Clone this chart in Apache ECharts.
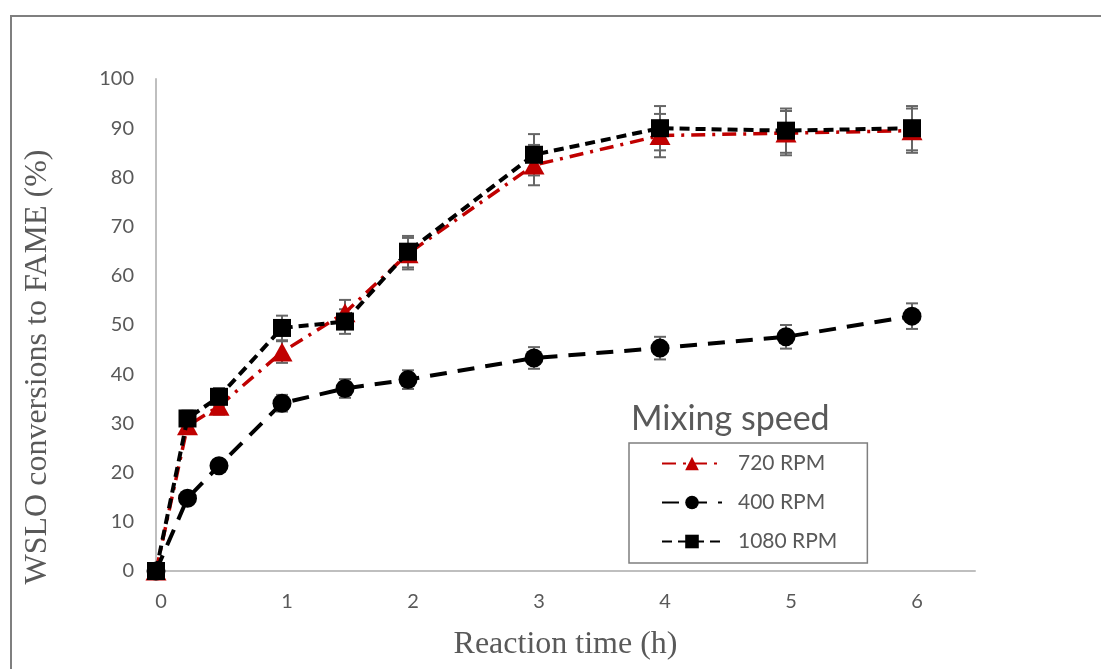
<!DOCTYPE html>
<html>
<head>
<meta charset="utf-8">
<script src="https://cdn.jsdelivr.net/npm/echarts@6/dist/echarts.min.js"></script>
<style>
  html, body { margin: 0; padding: 0; background: #ffffff; }
  #chart { width: 1101px; height: 669px; }
</style>
</head>
<body>
<div id="chart"></div>
<script>
// Reaction time (h)
const times = [0, 0.25, 0.5, 1, 1.5, 2, 3, 4, 5, 6];

// Conversion to FAME (%) per mixing speed
const rpm720 = [0, 29.5, 33.5, 44.5, 52.5, 64.5, 82.5, 88.5, 89, 89.5];
const rpm400 = [0, 14.8, 21.4, 34.1, 37.1, 38.9, 43.3, 45.3, 47.6, 51.8];
const rpm1080 = [0, 31, 35.4, 49.4, 50.7, 64.9, 84.6, 90, 89.5, 90];

// Error bar half-heights (%)
const err720 = [0, 1.5, 1.7, 2.2, 2.6, 3.2, 4.1, 4.4, 4.5, 4.5];
const err400 = [0, 0.7, 1.1, 1.7, 1.9, 1.9, 2.2, 2.3, 2.4, 2.6];
const err1080 = [0, 1.6, 1.8, 2.5, 2.5, 3.2, 4.2, 4.5, 4.5, 4.5];

const seriesNames = ['720 RPM', '400 RPM', '1080 RPM'];
const yTicks = [0, 100, 10];
const xTicks = [0, 6.5, 1];

const GRAY_TEXT = '#595959';
const AXIS_GRAY = '#bfbfbf';
const RED = '#c00000';

function pairs(ys) {
  return times.map((t, i) => [t, ys[i]]);
}

function errorTriples(ys, errs) {
  return times.map((t, i) => [t, ys[i], errs[i]]);
}

// Vertical error bar with caps, drawn in data space
function renderErrorBar(params, api) {
  const x = api.value(0);
  const y = api.value(1);
  const e = api.value(2);
  const hi = api.coord([x, y + e]);
  const lo = api.coord([x, y - e]);
  const half = 6;
  const style = { stroke: '#666666', lineWidth: 2 };
  return {
    type: 'group',
    children: [
      { type: 'line', shape: { x1: hi[0], y1: hi[1], x2: lo[0], y2: lo[1] }, style },
      { type: 'line', shape: { x1: hi[0] - half, y1: hi[1], x2: hi[0] + half, y2: hi[1] }, style },
      { type: 'line', shape: { x1: lo[0] - half, y1: lo[1], x2: lo[0] + half, y2: lo[1] }, style }
    ]
  };
}

function errSeries(name, ys, errs) {
  return {
    name: name + ' error',
    type: 'custom',
    z: 1,
    silent: true,
    renderItem: renderErrorBar,
    encode: { x: 0, y: 1 },
    data: errorTriples(ys, errs)
  };
}

const chart = echarts.init(document.getElementById('chart'), null, { renderer: 'canvas' });

chart.setOption({
  animation: false,
  backgroundColor: '#ffffff',
  graphic: [
    {
      // outer chart frame (only its top and left edges fall inside the canvas)
      type: 'rect',
      shape: { x: 11, y: 16, width: 1300, height: 900 },
      style: { fill: 'none', stroke: '#7f7f7f', lineWidth: 2 },
      silent: true,
      z: 0
    },
    {
      // vertical axis title
      type: 'text',
      x: 38,
      y: 367,
      rotation: Math.PI / 2,
      silent: true,
      style: {
        text: 'WSLO conversions to FAME (%)',
        fontFamily: 'Liberation Serif',
        fontSize: 32,
        fill: GRAY_TEXT,
        align: 'center',
        verticalAlign: 'middle'
      }
    }
  ],
  title: {
    text: 'Mixing speed',
    left: 626,
    top: 397,
    textStyle: { fontFamily: 'Lato', fontSize: 34, fontWeight: 'normal', color: GRAY_TEXT }
  },
  legend: {
    orient: 'vertical',
    left: 629,
    top: 443,
    padding: [10, 30, 11, 32],
    itemWidth: 60,
    itemHeight: 17,
    itemGap: 18,
    borderColor: '#7f7f7f',
    borderWidth: 1.5,
    data: seriesNames,
    textStyle: { fontFamily: 'Lato', fontSize: 21, color: GRAY_TEXT, padding: [0, 0, 0, 11] }
  },
  grid: { left: 156, right: 126, top: 79, bottom: 98, containLabel: false },
  xAxis: {
    type: 'value',
    min: xTicks[0],
    max: xTicks[1],
    interval: xTicks[2],
    name: 'Reaction time (h)',
    nameLocation: 'middle',
    nameGap: 58,
    nameTextStyle: { fontFamily: 'Liberation Serif', fontSize: 32, color: GRAY_TEXT },
    axisLine: { show: true, onZero: false, lineStyle: { color: AXIS_GRAY, width: 2 } },
    axisTick: { show: false },
    splitLine: { show: false },
    axisLabel: {
      fontFamily: 'Lato', fontSize: 20, color: GRAY_TEXT, margin: 21,
      padding: [0, 0, 0, 10],
      showMaxLabel: false
    }
  },
  yAxis: {
    type: 'value',
    min: yTicks[0],
    max: yTicks[1],
    interval: yTicks[2],
    axisLine: { show: true, lineStyle: { color: AXIS_GRAY, width: 2 } },
    axisTick: { show: false },
    splitLine: { show: false },
    axisLabel: { fontFamily: 'Lato', fontSize: 20, color: GRAY_TEXT, margin: 22 }
  },
  series: [
    errSeries(seriesNames[0], rpm720, err720),
    errSeries(seriesNames[1], rpm400, err400),
    errSeries(seriesNames[2], rpm1080, err1080),
    {
      name: seriesNames[0],
      type: 'line',
      z: 2,
      data: pairs(rpm720),
      symbol: 'triangle',
      symbolSize: [21, 19],
      lineStyle: { color: RED, width: 3.5, type: [14, 7, 3, 7] },
      itemStyle: { color: RED }
    },
    {
      name: seriesNames[1],
      type: 'line',
      z: 3,
      data: pairs(rpm400),
      symbol: 'circle',
      symbolSize: 19,
      lineStyle: { color: '#000000', width: 4, type: [17, 11] },
      itemStyle: { color: '#000000' }
    },
    {
      name: seriesNames[2],
      type: 'line',
      z: 4,
      data: pairs(rpm1080),
      symbol: 'rect',
      symbolSize: 18,
      lineStyle: { color: '#000000', width: 4, type: [10, 6] },
      itemStyle: { color: '#000000' }
    }
  ]
});
</script>
</body>
</html>
